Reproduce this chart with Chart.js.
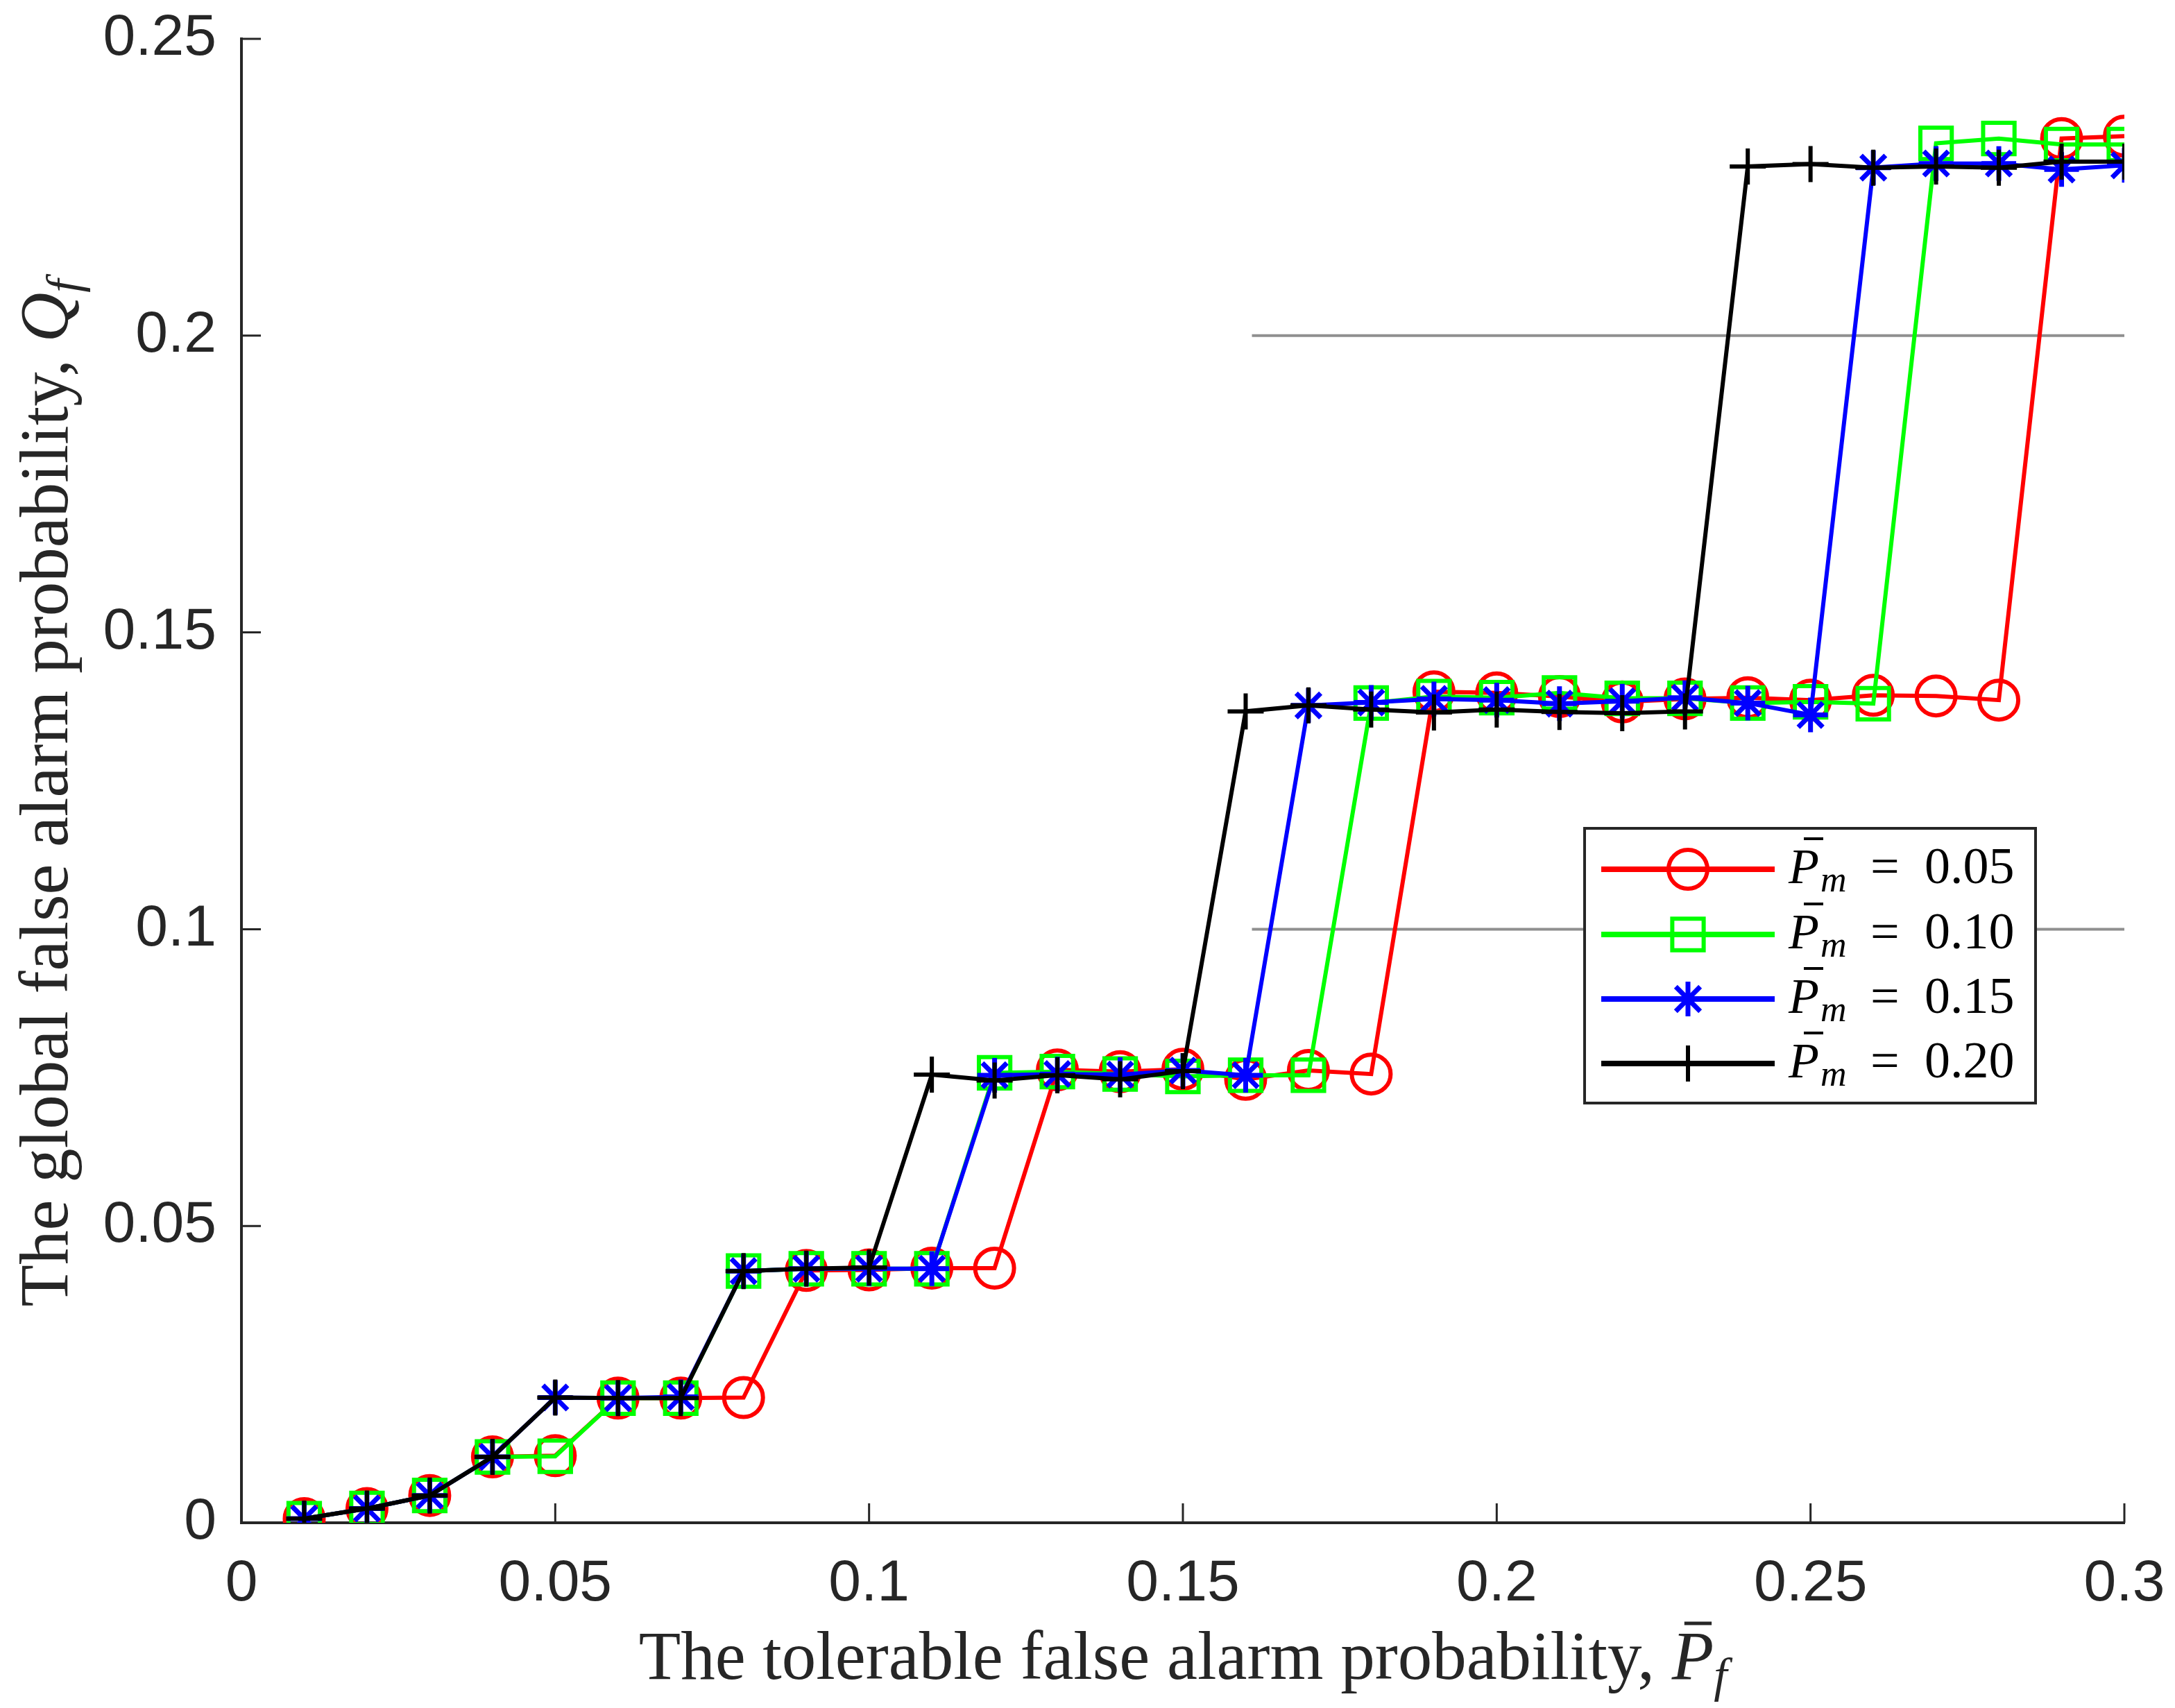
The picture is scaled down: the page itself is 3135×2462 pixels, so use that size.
<!DOCTYPE html>
<html>
<head>
<meta charset="utf-8">
<title>Global false alarm probability</title>
<script src="https://cdn.jsdelivr.net/npm/chart.js@4.4.1/dist/chart.umd.min.js"></script>
<style>
  html, body { margin: 0; padding: 0; background: #fff; }
  canvas { display: block; }
</style>
</head>
<body>
<canvas id="chart" width="3135" height="2462"></canvas>
<script>
// tolerable false alarm probability (x)
const xValues = [0.01, 0.02, 0.03, 0.04, 0.05, 0.06, 0.07, 0.08, 0.09, 0.10,
                 0.11, 0.12, 0.13, 0.14, 0.15, 0.16, 0.17, 0.18, 0.19, 0.20,
                 0.21, 0.22, 0.23, 0.24, 0.25, 0.26, 0.27, 0.28, 0.29, 0.30];

// global false alarm probability Qf, one list per Pm
const qfPm005 = [0.0007, 0.0024, 0.0046, 0.0111, 0.0113, 0.0210, 0.0210, 0.0211, 0.0425, 0.0426,
                 0.0429, 0.0429, 0.0763, 0.0760, 0.0764, 0.0747, 0.0762, 0.0756, 0.1400, 0.1398,
                 0.1392, 0.1383, 0.1388, 0.1390, 0.1386, 0.1394, 0.1393, 0.1386, 0.2332, 0.2336];
const qfPm010 = [0.0007, 0.0024, 0.0046, 0.0111, 0.0112, 0.0210, 0.0210, 0.0424, 0.0428, 0.0428,
                 0.0428, 0.0758, 0.0760, 0.0756, 0.0752, 0.0754, 0.0754, 0.1381, 0.1392, 0.1390,
                 0.1398, 0.1389, 0.1389, 0.1381, 0.1383, 0.1380, 0.2324, 0.2332, 0.2322, 0.2322];
const qfPm015 = [0.0007, 0.0024, 0.0046, 0.0111, 0.0211, 0.0210, 0.0212, 0.0424, 0.0428, 0.0428,
                 0.0428, 0.0754, 0.0756, 0.0755, 0.0762, 0.0754, 0.1377, 0.1382, 0.1388, 0.1386,
                 0.1380, 0.1384, 0.1390, 0.1381, 0.1361, 0.2283, 0.2290, 0.2290, 0.2280, 0.2287];
const qfPm020 = [0.0007, 0.0024, 0.0046, 0.0111, 0.0211, 0.0210, 0.0210, 0.0424, 0.0428, 0.0430,
                 0.0755, 0.0745, 0.0754, 0.0747, 0.0761, 0.1367, 0.1377, 0.1370, 0.1365, 0.1370,
                 0.1366, 0.1364, 0.1367, 0.2285, 0.2289, 0.2283, 0.2285, 0.2283, 0.2293, 0.2293];

const seriesValues = ["0.05", "0.10", "0.15", "0.20"];

// thin gray reference lines (start x, end x, level)
const refLineX = [0.161, 0.3];
const refLineLevels = [0.2, 0.1];

const xTickValues = [0, 0.05, 0.1, 0.15, 0.2, 0.25, 0.3];
const xTickLabels = ["0", "0.05", "0.1", "0.15", "0.2", "0.25", "0.3"];
const yTickValues = [0, 0.05, 0.1, 0.15, 0.2, 0.25];
const yTickLabels = ["0", "0.05", "0.1", "0.15", "0.2", "0.25"];

const axisColor = "#262626";
const serif = '"Liberation Serif", "DejaVu Serif", serif';
const sans = '"Liberation Sans", Arial, sans-serif';

const toPoints = (ys) => xValues.map((x, i) => ({ x: x, y: ys[i] }));

const series = [
  { ys: qfPm005, color: "#ff0000", style: "circle", radius: 28, bw: 6, order: 4 },
  { ys: qfPm010, color: "#00ff00", style: "rect", radius: 32, bw: 6, order: 3 },
  { ys: qfPm015, color: "#0000ff", style: "star", radius: 25, bw: 7, order: 2 },
  { ys: qfPm020, color: "#000000", style: "cross", radius: 26, bw: 6, order: 1 },
];

const datasets = series.map((s, i) => ({
  label: "Pm = " + seriesValues[i],
  data: toPoints(s.ys),
  borderColor: s.color,
  backgroundColor: "rgba(0,0,0,0)",
  borderWidth: 6,
  pointStyle: s.style,
  pointRadius: s.radius,
  pointBorderWidth: s.bw,
  pointBorderColor: s.color,
  pointBackgroundColor: "rgba(0,0,0,0)",
  tension: 0,
  order: s.order,
}));

refLineLevels.forEach((lvl) => {
  datasets.push({
    label: "ref",
    data: refLineX.map((x) => ({ x: x, y: lvl })),
    borderColor: "#8f8f8f",
    borderWidth: 4,
    pointRadius: 0,
    order: 10,
  });
});

// draw a run of text pieces with different fonts / offsets, centred on x
function drawRich(ctx, parts, x, y) {
  let w = 0;
  parts.forEach((p) => { ctx.font = p.font; p.w = ctx.measureText(p.t).width; w += p.w; });
  let cx = x - w / 2;
  parts.forEach((p) => {
    ctx.font = p.font;
    ctx.fillText(p.t, cx, y + (p.dy || 0));
    if (p.bar) {
      ctx.save();
      ctx.lineWidth = p.bar.lw;
      ctx.beginPath();
      ctx.moveTo(cx + p.w * 0.3, y - p.bar.h);
      ctx.lineTo(cx + p.w * 0.95, y - p.bar.h);
      ctx.stroke();
      ctx.restore();
    }
    cx += p.w;
  });
}

function legendMarker(ctx, s, x, y) {
  ctx.save();
  ctx.strokeStyle = s.color;
  ctx.lineWidth = s.bw;
  ctx.beginPath();
  const r = s.radius;
  if (s.style === "circle") {
    ctx.arc(x, y, r, 0, Math.PI * 2);
  } else if (s.style === "rect") {
    const h = r * Math.SQRT1_2;
    ctx.rect(x - h, y - h, 2 * h, 2 * h);
  } else {
    ctx.moveTo(x, y - r); ctx.lineTo(x, y + r);
    ctx.moveTo(x - r, y); ctx.lineTo(x + r, y);
    if (s.style === "star") {
      const d = r * Math.SQRT1_2;
      ctx.moveTo(x - d, y - d); ctx.lineTo(x + d, y + d);
      ctx.moveTo(x - d, y + d); ctx.lineTo(x + d, y - d);
    }
  }
  ctx.stroke();
  ctx.restore();
}

const decor = {
  id: "decor",
  afterDraw(chart) {
    const { ctx, chartArea: a, scales: { x, y } } = chart;
    ctx.save();
    // inward tick marks
    ctx.strokeStyle = axisColor;
    ctx.lineWidth = 3;
    const tl = 28;
    ctx.beginPath();
    xTickValues.forEach((v) => {
      const px = x.getPixelForValue(v);
      ctx.moveTo(px, a.bottom); ctx.lineTo(px, a.bottom - tl);
    });
    yTickValues.forEach((v) => {
      const py = y.getPixelForValue(v);
      ctx.moveTo(a.left, py); ctx.lineTo(a.left + tl, py);
    });
    ctx.stroke();

    // axis titles
    ctx.fillStyle = axisColor;
    ctx.strokeStyle = axisColor;
    ctx.textBaseline = "alphabetic";
    ctx.textAlign = "left";
    const fs = 99;
    drawRich(ctx, [
      { t: "The tolerable false alarm probability, ", font: fs + "px " + serif },
      { t: "P", font: "italic " + fs + "px " + serif, bar: { h: 80, lw: 5 } },
      { t: "f", font: "italic " + Math.round(fs * 0.7) + "px " + serif, dy: 18 },
    ], (a.left + a.right) / 2, 2420);

    ctx.save();
    ctx.translate(97, 1143);
    ctx.rotate(-Math.PI / 2);
    drawRich(ctx, [
      { t: "The global false alarm probability, ", font: fs + "px " + serif },
      { t: "Q", font: "italic " + fs + "px " + serif },
      { t: "f", font: "italic " + Math.round(fs * 0.7) + "px " + serif, dy: 18 },
    ], 0, 0);
    ctx.restore();

    // legend box
    const lx = 2284, ly = 1194, lw = 650, lh = 396;
    ctx.fillStyle = "#fff";
    ctx.fillRect(lx, ly, lw, lh);
    ctx.lineWidth = 4;
    ctx.strokeStyle = axisColor;
    ctx.strokeRect(lx, ly, lw, lh);
    const rowY = [1253, 1347, 1440, 1533];
    series.forEach((s, i) => {
      const yy = rowY[i];
      ctx.save();
      ctx.strokeStyle = s.color;
      ctx.lineWidth = 8;
      ctx.beginPath();
      ctx.moveTo(2308, yy); ctx.lineTo(2558, yy);
      ctx.stroke();
      ctx.restore();
      legendMarker(ctx, s, 2433, yy);

      ctx.fillStyle = "#000";
      ctx.strokeStyle = "#000";
      const base = yy + 20;
      ctx.textAlign = "left";
      ctx.font = "italic 72px " + serif;
      ctx.fillText("P", 2578, base);
      ctx.save();
      ctx.lineWidth = 4;
      ctx.beginPath();
      ctx.moveTo(2600, base - 64); ctx.lineTo(2628, base - 64);
      ctx.stroke();
      ctx.restore();
      ctx.font = "italic 52px " + serif;
      ctx.fillText("m", 2624, base + 12);
      ctx.font = "74px " + serif;
      ctx.fillText("=", 2696, base);
      ctx.fillText(seriesValues[i], 2774, base);
    });
    ctx.restore();
  },
};

new Chart(document.getElementById("chart"), {
  type: "line",
  data: { datasets: datasets },
  options: {
    responsive: false,
    animation: false,
    devicePixelRatio: 1,
    layout: { padding: { top: 56, right: 73, left: 0, bottom: 0 } },
    plugins: {
      legend: { display: false },
      tooltip: { enabled: false },
    },
    scales: {
      x: {
        type: "linear",
        min: 0,
        max: 0.3,
        afterFit: (scale) => { scale.height = 267; scale.paddingLeft = 0; scale.paddingRight = 0; },
        afterBuildTicks: (scale) => { scale.ticks = xTickValues.map((v) => ({ value: v })); },
        ticks: {
          callback: (v) => xTickLabels[xTickValues.indexOf(v)] ?? "",
          font: { family: sans, size: 84 },
          color: axisColor,
          padding: 38,
          maxRotation: 0,
        },
        grid: { display: true, drawOnChartArea: false, drawTicks: false },
        border: { display: true, color: axisColor, width: 4 },
      },
      y: {
        type: "linear",
        min: 0,
        max: 0.25,
        afterFit: (scale) => { scale.width = 348; scale.paddingTop = 0; scale.paddingBottom = 0; },
        afterBuildTicks: (scale) => { scale.ticks = yTickValues.map((v) => ({ value: v })); },
        ticks: {
          callback: (v) => yTickLabels[yTickValues.indexOf(v)] ?? "",
          font: { family: sans, size: 84 },
          color: axisColor,
          padding: 36,
        },
        grid: { display: true, drawOnChartArea: false, drawTicks: false },
        border: { display: true, color: axisColor, width: 4 },
      },
    },
  },
  plugins: [decor],
});
</script>
</body>
</html>
